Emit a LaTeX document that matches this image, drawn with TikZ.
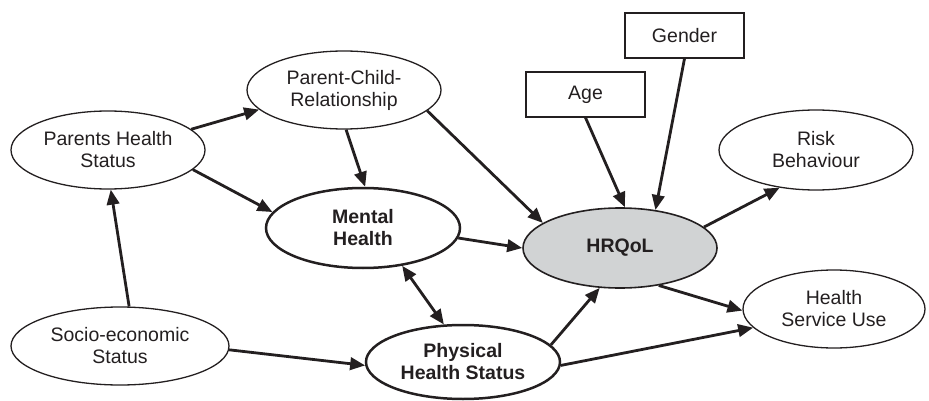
\documentclass[tikz,border=0pt]{standalone}
\usepackage{fontspec}
\setmainfont{Liberation Sans}
\usetikzlibrary{arrows.meta,shapes.geometric}
\definecolor{ink}{HTML}{231F20}
\definecolor{hfill}{HTML}{D1D3D4}
\newcommand{\basefont}{\fontsize{19.5}{22}\selectfont}
\begin{document}
\begin{tikzpicture}[x=1pt,y=-1pt,
  every node/.style={font=\basefont, align=center, text=ink},
  var/.style={ellipse, draw=ink, line width=1.3pt, inner sep=0pt},
  keyvar/.style={var, line width=2.5pt, font=\basefont\bfseries},
  boxnode/.style={rectangle, draw=ink, line width=1.3pt, inner sep=0pt, minimum width=119pt, minimum height=45pt},
  tip/.tip={Triangle[length=15pt,width=12.5pt]},
  arr/.style={draw=ink, line width=2.8pt, -tip},
  arrs/.style={draw=ink, line width=2.8pt, tip-tip},
]
\useasboundingbox (0,0) rectangle (929,401);

\node[var, minimum width=194pt, minimum height=78pt] (phs) at (108,150) {Parents Health\\Status};
\node[var, minimum width=194pt, minimum height=78pt] (pcr) at (344,90) {Parent-Child-\\Relationship};
\node[keyvar, minimum width=194pt, minimum height=80pt] (mh) at (363,228) {Mental\\Health};
\node[var, minimum width=218pt, minimum height=78pt] (ses) at (120,346) {Socio-economic\\Status};
\node[keyvar, minimum width=194pt, minimum height=74pt] (phys) at (463,362) {Physical\\Health Status};
\node[var, fill=hfill, line width=1.6pt, minimum width=194pt, minimum height=80pt, font=\basefont\bfseries] (hrq) at (620,248) {HRQoL};
\node[var, minimum width=182pt, minimum height=78pt] (hsu) at (834,309) {Health\\Service Use};
\node[var, minimum width=194pt, minimum height=80pt] (rb) at (816,150) {Risk\\Behaviour};
\node[boxnode] (age) at (585.5,94.5) {Age};
\node[boxnode] (gen) at (684.5,35.5) {Gender};

\draw[arr] (phs.14) -- (pcr.193);
\draw[arr] (phs.-13) -- (mh.170);
\draw[arr] (ses.77) -- (phs.-86);
\draw[arr] (pcr.-87) -- (mh.87);
\draw[arr] (pcr.-14) -- (hrq.162);
\draw[arr] (mh.-6) -- (hrq.180);
\draw[arrs] (mh.-44) -- (phys.117);
\draw[arr] (ses.-2) -- (phys.182);
\draw[arr] (phys.11) -- (hrq.243);
\draw[arr] (phys.-2) -- (hsu.193);
\draw[arr] (hrq.-44) -- (hsu.181);
\draw[arr] (hrq.14) -- (rb.226);
\draw[arr] (age.south) -- (hrq.83);
\draw[arr] (gen.south) -- (hrq.47);
\end{tikzpicture}
\end{document}
